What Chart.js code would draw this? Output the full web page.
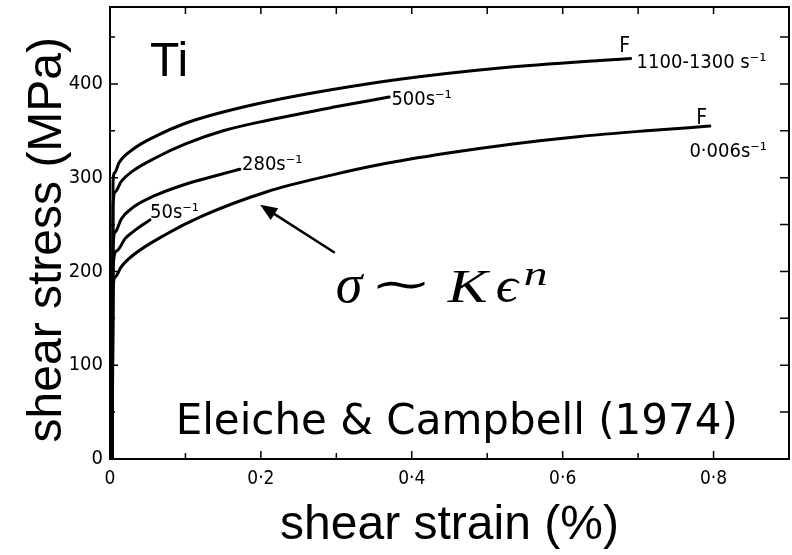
<!DOCTYPE html>
<html>
<head>
<meta charset="utf-8">
<script src="https://cdn.jsdelivr.net/npm/chart.js@4.4.1/dist/chart.umd.min.js"></script>
<style>
  html, body { margin: 0; padding: 0; background: #fff; }
  #wrap { width: 792px; height: 555px; }
</style>
</head>
<body>
<div id="wrap"><canvas id="ssChart" width="792" height="555"></canvas></div>
<script>
// Ti shear stress-strain curves at several strain rates
const strain1300 = [0.003, 0.004, 0.006, 0.012, 0.03, 0.06, 0.1, 0.15, 0.208, 0.295, 0.384, 0.517, 0.649, 0.69];
const stress1300 = [0, 295, 305, 316, 330, 344, 358, 370, 381, 394, 405, 417, 425, 427];

const strain500 = [0.003, 0.004, 0.007, 0.015, 0.03, 0.06, 0.1, 0.15, 0.208, 0.295, 0.37];
const stress500 = [0, 270, 285, 296, 307, 321, 336, 350, 361, 375, 386];

const strain280 = [0.003, 0.004, 0.007, 0.015, 0.03, 0.06, 0.1, 0.14, 0.172];
const stress280 = [0, 225, 242, 256, 268, 281, 293, 302, 309];

const strain50 = [0.003, 0.004, 0.009, 0.02, 0.03, 0.053];
const stress50 = [0, 205, 222, 235, 242, 255];

const strain0006 = [0.003, 0.004, 0.007, 0.015, 0.03, 0.075, 0.119, 0.208, 0.295, 0.358, 0.446, 0.534, 0.623, 0.711, 0.795];
const stress0006 = [0, 180, 194, 205, 217, 240, 258, 285, 303, 314, 326, 336, 344, 350, 355];

const xTickValues = [0, 0.2, 0.4, 0.6, 0.8];
const xTickLabels = ['0', '0·2', '0·4', '0·6', '0·8'];
const yTickValues = [0, 100, 200, 300, 400];

// text written on the plot, anchored in data units (strain, stress)
const curveLabels = [
  { text: '1100-1300 s⁻¹', x: 0.698, y: 417 },
  { text: '500s⁻¹', x: 0.373, y: 378 },
  { text: '280s⁻¹', x: 0.175, y: 308 },
  { text: '50s⁻¹', x: 0.053, y: 257 },
  { text: '0·006s⁻¹', x: 0.768, y: 322 }
];
const failMarks = [
  { x: 0.675, y: 434 },
  { x: 0.777, y: 357 }
];

const narrow = "'DejaVu Sans Condensed', 'Liberation Sans Narrow', 'DejaVu Sans', sans-serif";
const sans = "'Liberation Sans', Arial, sans-serif";

function zip(xs, ys) {
  return xs.map((x, i) => ({ x: x, y: ys[i] }));
}

function curve(label, xs, ys) {
  return {
    label: label,
    data: zip(xs, ys),
    borderColor: '#000',
    borderWidth: 3,
    pointRadius: 0,
    cubicInterpolationMode: 'monotone',
    fill: false,
    borderCapStyle: 'round',
    borderJoinStyle: 'round'
  };
}

// draw one glyph stretched sideways
function glyph(ctx, text, font, x, y, sx) {
  ctx.save();
  ctx.font = font;
  ctx.translate(x, y);
  ctx.scale(sx, 1);
  ctx.fillText(text, 0, 0);
  ctx.restore();
}

// frame, inward tick marks, labels, arrow and formula
const decorPlugin = {
  id: 'decor',
  afterDatasetsDraw(chart) {
    const ctx = chart.ctx;
    const a = chart.chartArea;
    const xs = chart.scales.x;
    const ys = chart.scales.y;
    ctx.save();
    ctx.strokeStyle = '#000';
    ctx.fillStyle = '#000';

    ctx.lineWidth = 2;
    ctx.strokeRect(a.left, a.top, a.right - a.left, a.bottom - a.top);

    ctx.lineWidth = 1.5;
    ctx.beginPath();
    for (let i = 0; i <= 8; i++) {
      const px = xs.getPixelForValue(i / 10);
      const len = i % 2 === 0 ? 8 : 6;
      ctx.moveTo(px, a.bottom);
      ctx.lineTo(px, a.bottom - len);
      if (i > 0) {
        ctx.moveTo(px, a.top);
        ctx.lineTo(px, a.top + 7);
      }
    }
    for (let v = 50; v <= 450; v += 50) {
      const py = ys.getPixelForValue(v);
      ctx.moveTo(a.left, py);
      ctx.lineTo(a.left + (v % 100 === 0 ? 8 : 5), py);
      ctx.moveTo(a.right, py);
      ctx.lineTo(a.right - 9, py);
    }
    ctx.stroke();

    ctx.textBaseline = 'alphabetic';
    ctx.textAlign = 'left';
    ctx.font = '20px ' + narrow;
    curveLabels.forEach(l => {
      ctx.fillText(l.text, xs.getPixelForValue(l.x), ys.getPixelForValue(l.y));
    });
    ctx.font = '21px ' + narrow;
    failMarks.forEach(f => {
      ctx.fillText('F', xs.getPixelForValue(f.x), ys.getPixelForValue(f.y));
    });

    ctx.font = '48px ' + sans;
    ctx.fillText('Ti', xs.getPixelForValue(0.053), ys.getPixelForValue(408));

    ctx.font = "42px 'DejaVu Sans', sans-serif";
    ctx.fillText('Eleiche & Campbell (1974)', xs.getPixelForValue(0.087), ys.getPixelForValue(26.7));

    // arrow pointing at the slow-rate curve
    const x1 = xs.getPixelForValue(0.298), y1 = ys.getPixelForValue(220);
    const x2 = xs.getPixelForValue(0.199), y2 = ys.getPixelForValue(271);
    const ang = Math.atan2(y2 - y1, x2 - x1);
    ctx.lineWidth = 2.5;
    ctx.beginPath();
    ctx.moveTo(x1, y1);
    ctx.lineTo(x2 - 12 * Math.cos(ang), y2 - 12 * Math.sin(ang));
    ctx.stroke();
    ctx.beginPath();
    ctx.moveTo(x2, y2);
    ctx.lineTo(x2 - 17 * Math.cos(ang) + 7 * Math.sin(ang), y2 - 17 * Math.sin(ang) - 7 * Math.cos(ang));
    ctx.lineTo(x2 - 17 * Math.cos(ang) - 7 * Math.sin(ang), y2 - 17 * Math.sin(ang) + 7 * Math.cos(ang));
    ctx.closePath();
    ctx.fill();

    // power-law hardening formula
    const fx = xs.getPixelForValue(0.302);
    const fy = ys.getPixelForValue(167.5);
    const serifIt = "'Liberation Serif', serif";
    glyph(ctx, 'σ', 'italic 54px ' + serifIt, fx - 2, fy, 1);
    glyph(ctx, '∼', "44px 'DejaVu Serif', serif", fx + 32, fy - 3, 1.7);
    glyph(ctx, 'K', 'italic 46px ' + serifIt, fx + 110, fy, 1.3);
    glyph(ctx, 'ϵ', 'italic 50px ' + serifIt, fx + 158, fy, 1.1);
    glyph(ctx, 'n', 'italic 34px ' + serifIt, fx + 186, fy - 17, 1.4);
    ctx.restore();
  }
};

new Chart(document.getElementById('ssChart'), {
  type: 'line',
  data: {
    datasets: [
      curve('1100-1300 s⁻¹', strain1300, stress1300),
      curve('500 s⁻¹', strain500, stress500),
      curve('280 s⁻¹', strain280, stress280),
      curve('50 s⁻¹', strain50, stress50),
      curve('0.006 s⁻¹', strain0006, stress0006)
    ]
  },
  options: {
    responsive: false,
    animation: false,
    layout: { padding: { top: 7, right: 3, left: 0, bottom: 0 } },
    plugins: {
      legend: { display: false },
      tooltip: { enabled: false }
    },
    scales: {
      x: {
        type: 'linear',
        min: 0,
        max: 0.9,
        grid: { display: false, drawTicks: false },
        border: { display: false },
        afterBuildTicks: s => { s.ticks = xTickValues.map(v => ({ value: v })); },
        afterFit: s => { s.height = 96; s.paddingLeft = 0; s.paddingRight = 0; },
        ticks: {
          color: '#000',
          padding: 9,
          maxRotation: 0,
          font: { family: narrow, size: 19 },
          callback: (v, i) => xTickLabels[i]
        },
        title: {
          display: true,
          text: 'shear strain (%)',
          color: '#000',
          padding: { top: 0, bottom: 0 },
          font: { family: sans, size: 48 }
        }
      },
      y: {
        min: 0,
        max: 482,
        grid: { display: false, drawTicks: false },
        border: { display: false },
        afterBuildTicks: s => { s.ticks = yTickValues.map(v => ({ value: v })); },
        afterFit: s => { s.width = 110; s.paddingTop = 0; s.paddingBottom = 0; },
        ticks: {
          color: '#000',
          padding: 7,
          font: { family: narrow, size: 20 },
          callback: v => String(v)
        },
        title: {
          display: true,
          text: 'shear stress (MPa) ',
          color: '#000',
          padding: { top: 19, bottom: 0 },
          font: { family: sans, size: 48 }
        }
      }
    }
  },
  plugins: [decorPlugin]
});
</script>
</body>
</html>
